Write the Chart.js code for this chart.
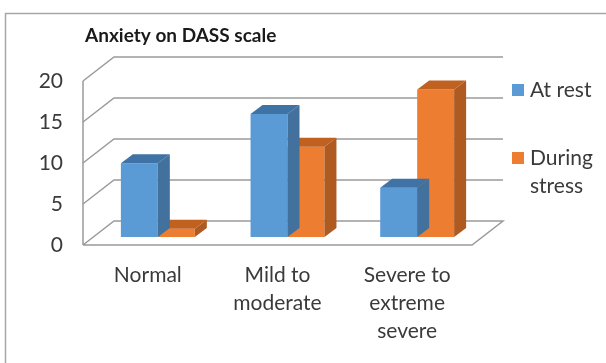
<!DOCTYPE html>
<html>
<head>
<meta charset="utf-8">
<script src="https://cdn.jsdelivr.net/npm/chart.js@4.4.1/dist/chart.umd.min.js"></script>
<style>
  html, body { margin: 0; padding: 0; background: #fff; }
  #wrap { width: 606px; height: 363px; position: relative; }
</style>
</head>
<body>
<div id="wrap"><canvas id="anxietyChart"></canvas></div>
<script>
const chartTitle = "Anxiety on DASS scale";
const categories = ["Normal", ["Mild to", "moderate"], ["Severe to", "extreme", "severe"]];
const atRest = [9, 15, 6];
const duringStress = [1, 11, 18];
const seriesNames = ["At rest", "During stress"];
const yTicks = [0, 5, 10, 15, 20];

// 3d look: depth of the box, where the bars sit inside it, and bar thickness
const wallDepth = { dx: 31, dy: -24 };
const barShift = { dx: 10, dy: -8 };
const barDepth = { dx: 12, dy: -9 };
const FONT = "Lato, 'Open Sans', sans-serif";

const box3d = {
  id: "box3d",
  beforeDraw(chart) {
    const ctx = chart.ctx;
    ctx.save();
    ctx.strokeStyle = "#a6a6a6";
    ctx.lineWidth = 1.5;
    ctx.strokeRect(5.5, 13.5, 700, 400);
    ctx.restore();
  },
  beforeDatasetsDraw(chart) {
    const { ctx, chartArea, scales } = chart;
    const y = scales.y;
    const l = chartArea.left, r = chartArea.right;
    ctx.save();
    ctx.strokeStyle = "#9a9a9a";
    ctx.lineWidth = 1.5;
    yTicks.forEach((v) => {
      const yf = y.getPixelForValue(v);
      ctx.beginPath();
      ctx.moveTo(l, yf);
      ctx.lineTo(l + wallDepth.dx, yf + wallDepth.dy);
      ctx.lineTo(r + wallDepth.dx, yf + wallDepth.dy);
      if (v === 0) {
        ctx.lineTo(r, yf);
        ctx.lineTo(l, yf);
      }
      ctx.stroke();
    });
    ctx.beginPath();
    ctx.moveTo(l, y.getPixelForValue(yTicks[yTicks.length - 1]));
    ctx.lineTo(l, y.getPixelForValue(0));
    ctx.stroke();
    ctx.restore();
  },
  beforeDatasetDraw(chart) {
    chart.ctx.save();
    chart.ctx.translate(barShift.dx, barShift.dy);
  },
  afterDatasetDraw(chart, args) {
    const ctx = chart.ctx;
    const ds = chart.data.datasets[args.index];
    args.meta.data.forEach((bar) => {
      const p = bar.getProps(["x", "y", "base", "width"], true);
      const left = p.x - p.width / 2, right = p.x + p.width / 2;
      const top = Math.min(p.y, p.base), bottom = Math.max(p.y, p.base);
      ctx.fillStyle = ds.sideColor;
      ctx.beginPath();
      ctx.moveTo(right, top);
      ctx.lineTo(right + barDepth.dx, top + barDepth.dy);
      ctx.lineTo(right + barDepth.dx, bottom + barDepth.dy);
      ctx.lineTo(right, bottom);
      ctx.closePath();
      ctx.fill();
      ctx.fillStyle = ds.topColor;
      ctx.beginPath();
      ctx.moveTo(left, top);
      ctx.lineTo(left + barDepth.dx, top + barDepth.dy);
      ctx.lineTo(right + barDepth.dx, top + barDepth.dy);
      ctx.lineTo(right, top);
      ctx.closePath();
      ctx.fill();
    });
    ctx.restore();
  },
  afterDraw(chart) {
    const { ctx, chartArea } = chart;
    ctx.save();
    ctx.fillStyle = "#1a1a1a";
    ctx.font = "bold 19px " + FONT;
    ctx.textBaseline = "middle";
    ctx.textAlign = "left";
    ctx.fillText(chartTitle, chartArea.left + 2, 36);

    // legend, wrapped to the space right of the box
    ctx.font = "21px " + FONT;
    const lx = 512, maxW = 80;
    const rows = [90, 158];
    chart.data.datasets.forEach((ds, i) => {
      const words = ds.label.split(" ");
      const lines = [];
      let cur = "";
      words.forEach((w) => {
        const t = cur ? cur + " " + w : w;
        if (cur && ctx.measureText(t).width > maxW) { lines.push(cur); cur = w; } else cur = t;
      });
      lines.push(cur);
      ctx.fillStyle = ds.backgroundColor;
      ctx.fillRect(lx, rows[i] - 6, 12, 12);
      ctx.fillStyle = "#3a3a3a";
      lines.forEach((ln, k) => ctx.fillText(ln, lx + 18, rows[i] + k * 28));
    });
    ctx.restore();
  }
};

new Chart(document.getElementById("anxietyChart").getContext("2d"), {
  type: "bar",
  data: {
    labels: categories,
    datasets: [
      {
        label: seriesNames[0],
        data: atRest,
        backgroundColor: "#5b9bd5",
        sideColor: "#41719c",
        topColor: "#3f72a5",
        borderWidth: 0,
        clip: false,
      },
      {
        label: seriesNames[1],
        data: duringStress,
        backgroundColor: "#ed7d31",
        sideColor: "#ae5a21",
        topColor: "#c0611f",
        borderWidth: 0,
        clip: false,
      },
    ],
  },
  options: {
    responsive: true,
    maintainAspectRatio: false,
    animation: false,
    layout: { padding: { left: 0, right: 134, top: 81, bottom: 0 } },
    categoryPercentage: 0.57,
    barPercentage: 1.0,
    plugins: {
      legend: { display: false },
      tooltip: { enabled: false },
      title: { display: false },
    },
    scales: {
      x: {
        grid: { display: false, drawTicks: false },
        border: { display: false },
        ticks: {
          font: { family: FONT, size: 21, lineHeight: 1.33 },
          color: "#3a3a3a",
          padding: 16,
          maxRotation: 0,
          autoSkip: false,
        },
        afterFit(scale) { scale.height = 118; },
      },
      y: {
        min: yTicks[0],
        max: yTicks[yTicks.length - 1],
        grid: { display: false, drawTicks: false },
        border: { display: false },
        ticks: {
          stepSize: yTicks[1] - yTicks[0],
          font: { family: FONT, size: 21 },
          color: "#3a3a3a",
          padding: 20,
        },
        afterFit(scale) { scale.width = 83; },
      },
    },
  },
  plugins: [box3d],
});
</script>
</body>
</html>
